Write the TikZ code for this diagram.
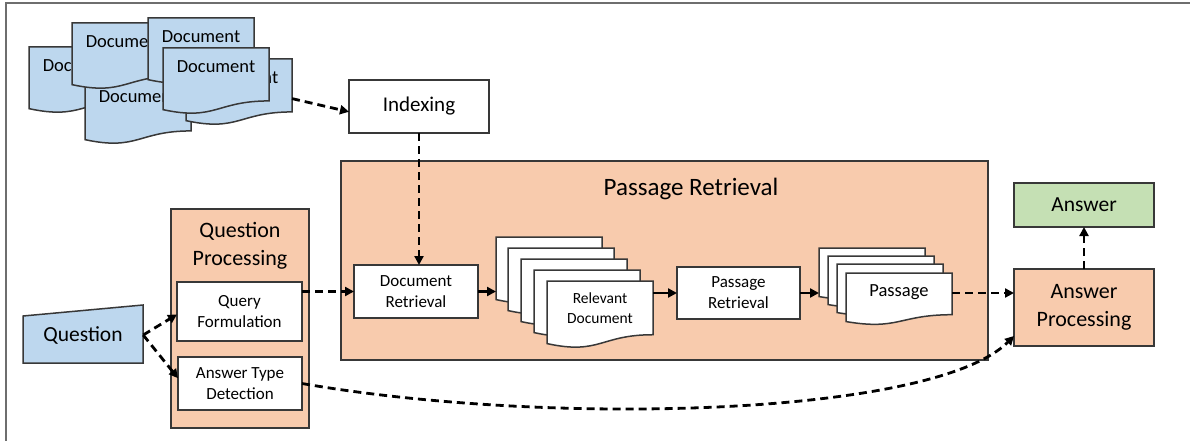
\documentclass[tikz,border=0pt]{standalone}
\usepackage{fontspec}
\setmainfont{Carlito}
\usetikzlibrary{arrows.meta,calc}
\definecolor{docblue}{HTML}{BDD7EE}
\definecolor{peach}{HTML}{F8CBAD}
\definecolor{ansgreen}{HTML}{C5E0B4}
\definecolor{edge}{HTML}{383838}
\definecolor{framegray}{HTML}{6E6E6E}
\newcommand\myfs[2]{\fontsize{#1}{#2}\selectfont}
\newcommand\docpath[1]{(#1.north west) -- (#1.north east) -- ($(#1.north east)!0.802!(#1.south east)$) .. controls ($(#1.north)!0.802!(#1.south)$) and ($(#1.north)!1.107!(#1.south)$) .. ($(#1.north west)!0.934!(#1.south west)$) -- cycle}
\newcommand\docsheet[8]{%
  \node[sheetframe, minimum height=#4] (#1) at (#2,#3) {};
  \filldraw[fill=#5, sheetline] \docpath{#1};
  \node[#6] (#1-t) at ($(#1.north)!#7!(#1.south)$) {#8};
}
\tikzset{
  sheetframe/.style={anchor=north west, minimum width=106, inner sep=0, outer sep=0, draw=none},
  sheetline/.style={draw=edge, line width=1.5pt, line join=miter},
  stacktext/.style={font=\myfs{18.5}{22}},
  relevtext/.style={font=\myfs{15.5}{20}, align=center},
  passtext/.style={font=\myfs{18.5}{22}},
  box/.style={draw=edge, line width=1.5pt, fill=white, align=center, inner sep=0, outer sep=0, font=\myfs{17}{21}},
  dasharrow/.style={line width=2.8pt, dash pattern=on 8pt off 5pt, -{Triangle[length=9pt,width=9pt]}},
  solidarrow/.style={line width=2.4pt, -{Triangle[length=9pt,width=9pt]}},
}
\begin{document}
\begin{tikzpicture}[x=1pt,y=-1pt]
\useasboundingbox (0,0) rectangle (1190,441);
\fill[white] (0,0) rectangle (1190,441);
% frame
\draw[framegray, line width=2pt] (5.5,441) -- (5.5,3) -- (1190,3);

% document stack
\docsheet{dA}{29}{47}{66}{docblue}{stacktext}{0.28}{Document}
\docsheet{dD}{85}{78}{66}{docblue}{stacktext}{0.28}{Document}
\docsheet{dB}{72}{23}{66}{docblue}{stacktext}{0.28}{Document}
\docsheet{dC}{148}{18}{66}{docblue}{stacktext}{0.28}{Document}
\docsheet{dF}{186}{59}{66}{docblue}{stacktext}{0.28}{Document}
\docsheet{dE}{163}{48}{66}{docblue}{stacktext}{0.28}{Document}

% indexing
\node[box, minimum width=140, minimum height=53, font=\myfs{21}{26}] (idx) at (419,106.5) {\raisebox{2pt}{Indexing}};

% containers
\node[box, fill=peach, minimum width=138, minimum height=219] (qp) at (240,318.5) {};
\node[font=\myfs{22}{28}, align=center] (qptitle) at (240,246) {Question\\Processing};
\node[box, fill=peach, minimum width=647, minimum height=199] (big) at (664.5,260.5) {};
\node[font=\myfs{25}{30}] (bigtitle) at (691,189) {Passage Retrieval};

% question
\filldraw[fill=docblue, draw=edge, line width=1.5pt] (23,363) -- (143,363) -- (143,305) -- (23,316) -- cycle;
\node[minimum width=120, minimum height=58, font=\myfs{21.5}{26}, inner sep=0] (q) at (83,335) {Question};

% inner boxes
\node[box, minimum width=125, minimum height=59] (qf) at (239.5,311.5) {Query\\Formulation};
\node[box, minimum width=124, minimum height=53] (atd) at (240,383.5) {Answer Type\\Detection};
\node[box, minimum width=124, minimum height=53] (dr) at (416,291.5) {Document\\Retrieval};
\node[box, minimum width=123, minimum height=52] (prs) at (738.5,293) {Passage\\Retrieval};

% relevant documents stack
\docsheet{r1}{496}{237}{67}{white}{relevtext}{0.4}{}
\docsheet{r2}{508}{248}{67}{white}{relevtext}{0.4}{}
\docsheet{r3}{521}{259}{67}{white}{relevtext}{0.4}{}
\docsheet{r4}{534}{270}{67}{white}{relevtext}{0.4}{}
\docsheet{r5}{547}{281}{67}{white}{relevtext}{0.4}{Relevant\\Document}

% passage stack
\docsheet{p1}{819}{248}{52}{white}{passtext}{0.37}{}
\docsheet{p2}{828}{256}{52}{white}{passtext}{0.37}{}
\docsheet{p3}{837}{264}{52}{white}{passtext}{0.37}{}
\docsheet{p4}{846}{273}{52}{white}{passtext}{0.37}{Passage}

% answer side
\node[box, fill=peach, minimum width=140, minimum height=77, font=\myfs{22}{28}] (ap) at (1084,307.5) {Answer\\Processing};
\node[box, fill=ansgreen, minimum width=140, minimum height=44, font=\myfs{21.5}{26}] (ans) at (1084,205) {Answer};

% connectors
\draw[dasharrow] ($(dF.north east)!0.6!(dF.south east)$) -- ($(idx.north west)!0.6!(idx.south west)$);
\draw[dasharrow] (idx.south) -- (idx.south |- dr.north);
\draw[dasharrow] (q.east) -- ($(qf.north west)!0.55!(qf.south west)$);
\draw[dasharrow] (q.east) -- ($(atd.north west)!0.4!(atd.south west)$);
\draw[dasharrow] (qf.east |- dr.west) -- (dr.west);
\draw[solidarrow] (dr.east) -- (dr.east -| r1.west);
\draw[solidarrow] (prs.west -| r5.east) -- (prs.west);
\draw[solidarrow] (prs.east) -- (prs.east -| p1.west);
\draw[dasharrow] (prs.east -| p4.east) -- (prs.east -| ap.west);
\draw[dasharrow] (ap.north) -- (ans.south);
\draw[dasharrow] (atd.east) .. controls (552,427) and (934,416) .. ($(ap.north west)!0.87!(ap.south west)$);
\end{tikzpicture}
\end{document}
